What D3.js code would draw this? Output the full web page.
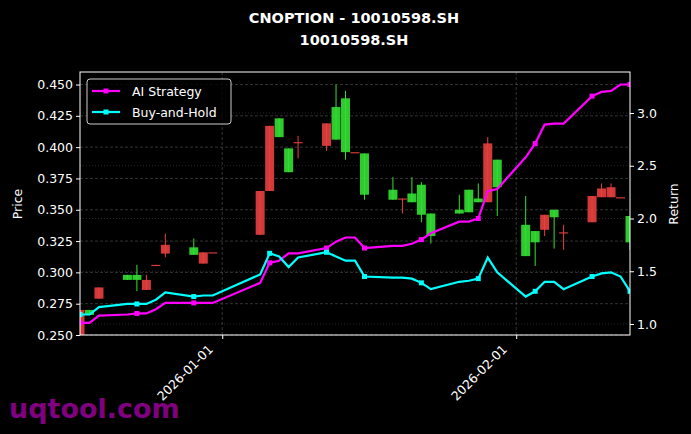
<!DOCTYPE html>
<html>
<head>
<meta charset="utf-8">
<script src="https://cdn.jsdelivr.net/npm/d3@7"></script>
<style>
  body { margin: 0; background: #000; }
  text { font-family: "DejaVu Sans", sans-serif; }
</style>
</head>
<body>
<svg id="chart" width="691" height="434"></svg>
<script>
"use strict"

// trading days
let dates = ["2025-12-17","2025-12-18","2025-12-19","2025-12-22","2025-12-23","2025-12-24","2025-12-25","2025-12-26",
    "2025-12-29","2025-12-30","2025-12-31","2026-01-05","2026-01-06","2026-01-07","2026-01-08","2026-01-09",
    "2026-01-12","2026-01-13","2026-01-14","2026-01-15","2026-01-16","2026-01-19","2026-01-20","2026-01-21",
    "2026-01-22","2026-01-23","2026-01-26","2026-01-27","2026-01-28","2026-01-29","2026-01-30","2026-02-02",
    "2026-02-03","2026-02-04","2026-02-05","2026-02-06","2026-02-09","2026-02-10","2026-02-11","2026-02-12","2026-02-13"];

let opens  = [0.250,0.270,0.279,0.298,0.298,0.286,0.306,0.315,0.320,0.307,0.316,0.330,0.365,0.423,0.399,0.404,
    0.401,0.432,0.439,0.396,0.395,0.366,0.359,0.363,0.370,0.347,0.350,0.366,0.359,0.356,0.390,0.338,
    0.333,0.334,0.350,0.332,0.340,0.360,0.360,0.360,0.345];
let closes = [0.270,0.266,0.288,0.294,0.294,0.294,0.306,0.322,0.314,0.316,0.316,0.365,0.417,0.408,0.380,0.404,
    0.419,0.406,0.396,0.396,0.362,0.358,0.359,0.356,0.346,0.329,0.347,0.348,0.356,0.403,0.368,0.313,
    0.324,0.346,0.344,0.332,0.361,0.367,0.368,0.360,0.324];
let highs  = [0.270,0.270,0.288,0.298,0.306,0.298,0.306,0.331,0.327,0.316,0.316,0.365,0.417,0.423,0.399,0.409,
    0.419,0.450,0.445,0.396,0.395,0.376,0.359,0.376,0.372,0.347,0.362,0.366,0.371,0.408,0.390,0.361,
    0.333,0.346,0.350,0.338,0.361,0.371,0.371,0.360,0.345];
let lows   = [0.250,0.266,0.279,0.294,0.285,0.286,0.305,0.312,0.314,0.307,0.316,0.330,0.365,0.408,0.380,0.391,
    0.397,0.406,0.390,0.396,0.358,0.358,0.347,0.356,0.340,0.323,0.347,0.348,0.356,0.356,0.345,0.313,
    0.305,0.329,0.319,0.318,0.340,0.360,0.360,0.360,0.318];

let aiReturn  = [1.01,1.01,1.08,1.09,1.10,1.10,1.14,1.20,1.20,1.20,1.20,1.39,1.58,1.60,1.67,1.67,
    1.72,1.78,1.82,1.82,1.72,1.74,1.74,1.76,1.80,1.86,1.97,1.97,2.00,2.26,2.28,2.58,
    2.71,2.89,2.90,2.90,3.16,3.20,3.21,3.27,3.27];
let holdReturn = [1.09,1.09,1.16,1.19,1.19,1.19,1.23,1.30,1.26,1.27,1.27,1.47,1.67,1.64,1.54,1.63,
    1.68,1.64,1.60,1.60,1.45,1.44,1.44,1.43,1.39,1.33,1.40,1.41,1.43,1.63,1.49,1.26,
    1.31,1.40,1.40,1.33,1.45,1.48,1.49,1.45,1.31];

let priceTicks = [0.250,0.275,0.300,0.325,0.350,0.375,0.400,0.425,0.450];
let returnTicks = [1.0,1.5,2.0,2.5,3.0];
let dateTicks = ["2026-01-01","2026-02-01"];

let parse = d3.timeParse("%Y-%m-%d");
let margin = {left: 80, right: 630, top: 72, bottom: 335};
let svg = d3.select("#chart");
svg.append("rect").attr("width", 691).attr("height", 434).attr("fill", "#000");

let x = d3.scaleTime().domain([parse(dates[0]), parse(dates[dates.length - 1])]).range([margin.left, margin.right]);
let yP = d3.scaleLinear().domain([0.25, 0.46]).range([margin.bottom, margin.top]);
let yR = d3.scaleLinear().domain([1.0, 3.0]).range([324, 113]);

svg.append("clipPath").attr("id", "clip").append("rect")
    .attr("x", margin.left).attr("y", margin.top)
    .attr("width", margin.right - margin.left).attr("height", margin.bottom - margin.top);

// grid
let grid = svg.append("g");
grid.selectAll(".gp").data(priceTicks).enter().append("line")
    .attr("x1", margin.left).attr("x2", margin.right)
    .attr("y1", d => yP(d)).attr("y2", d => yP(d))
    .attr("stroke", "#555").attr("stroke-width", 0.6).attr("stroke-dasharray", "3,2");
grid.selectAll(".gr").data(returnTicks).enter().append("line")
    .attr("x1", margin.left).attr("x2", margin.right)
    .attr("y1", d => yR(d)).attr("y2", d => yR(d))
    .attr("stroke", "#444").attr("stroke-width", 0.6).attr("stroke-dasharray", "1,2");
grid.selectAll(".gx").data(dateTicks).enter().append("line")
    .attr("x1", d => x(parse(d))).attr("x2", d => x(parse(d)))
    .attr("y1", margin.top).attr("y2", margin.bottom)
    .attr("stroke", "#555").attr("stroke-width", 0.6).attr("stroke-dasharray", "3,2");

// candles
let plot = svg.append("g").attr("clip-path", "url(#clip)");
let candles = plot.selectAll(".c").data(dates).enter().append("g");
let col = (i) => closes[i] >= opens[i] ? "#e8403f" : "#33e033";
candles.append("line")
    .attr("x1", d => x(parse(d))).attr("x2", d => x(parse(d)))
    .attr("y1", (d, i) => yP(highs[i])).attr("y2", (d, i) => yP(lows[i]))
    .attr("stroke", (d, i) => col(i)).attr("stroke-width", 1);
candles.append("rect")
    .attr("x", d => x(parse(d)) - 4.5).attr("width", 9)
    .attr("y", (d, i) => yP(Math.max(opens[i], closes[i])))
    .attr("height", (d, i) => Math.max(1.2, Math.abs(yP(opens[i]) - yP(closes[i]))))
    .attr("fill", (d, i) => col(i)).attr("opacity", 0.9);

// return lines
function drawLine(values, color) {
    let line = d3.line().x((d, i) => x(parse(dates[i]))).y(d => yR(d));
    plot.append("path").datum(values).attr("d", line)
        .attr("fill", "none").attr("stroke", color).attr("stroke-width", 2.2);
    plot.selectAll(null).data(values.filter((d, i) => i % 4 === 0)).enter().append("rect")
        .attr("x", (d, i) => x(parse(dates[i * 4])) - 2.5).attr("y", d => yR(d) - 2.5)
        .attr("width", 5).attr("height", 5).attr("fill", color);
}
drawLine(aiReturn, "#ff00ff");
drawLine(holdReturn, "#00ffff");

// frame
svg.append("rect").attr("x", margin.left).attr("y", margin.top)
    .attr("width", margin.right - margin.left).attr("height", margin.bottom - margin.top)
    .attr("fill", "none").attr("stroke", "#fff").attr("stroke-width", 1);

// axes
let axL = svg.append("g").attr("transform", `translate(${margin.left},0)`)
    .call(d3.axisLeft(yP).tickValues(priceTicks).tickFormat(d3.format(".3f")).tickSize(4));
let axR = svg.append("g").attr("transform", `translate(${margin.right},0)`)
    .call(d3.axisRight(yR).tickValues(returnTicks).tickFormat(d3.format(".1f")).tickSize(4));
let axB = svg.append("g").attr("transform", `translate(0,${margin.bottom})`)
    .call(d3.axisBottom(x).tickValues(dateTicks.map(parse)).tickFormat(d3.timeFormat("%Y-%m-%d")).tickSize(4));
[axL, axR, axB].forEach(a => {
    a.select(".domain").remove();
    a.selectAll("line").attr("stroke", "#fff");
    a.selectAll("text").attr("fill", "#fff").attr("font-size", 12.5);
});
axB.selectAll("text").attr("text-anchor", "end").attr("x", 0).attr("y", 0).attr("dx", 0).attr("dy", "0.35em")
    .attr("transform", "translate(-12,12) rotate(-45)");

// labels
svg.append("text").attr("transform", "translate(22,204) rotate(-90)").attr("text-anchor", "middle")
    .attr("fill", "#fff").attr("font-size", 12.5).text("Price");
svg.append("text").attr("transform", "translate(678,204) rotate(-90)").attr("text-anchor", "middle")
    .attr("fill", "#fff").attr("font-size", 12.5).text("Return");
svg.append("text").attr("x", 354).attr("y", 23).attr("text-anchor", "middle").attr("fill", "#fff")
    .attr("font-size", 14.5).attr("font-weight", "bold").text("CNOPTION - 10010598.SH");
svg.append("text").attr("x", 354).attr("y", 45).attr("text-anchor", "middle").attr("fill", "#fff")
    .attr("font-size", 14.5).attr("font-weight", "bold").text("10010598.SH");

// legend
let legend = svg.append("g").attr("transform", "translate(87,79)");
legend.append("rect").attr("width", 144).attr("height", 45).attr("rx", 3)
    .attr("fill", "#000").attr("fill-opacity", 0.8).attr("stroke", "#ccc").attr("stroke-width", 1);
[["AI Strategy", "#ff00ff"], ["Buy-and-Hold", "#00ffff"]].forEach((e, i) => {
    let yy = 12 + i * 21;
    legend.append("line").attr("x1", 5).attr("x2", 33).attr("y1", yy).attr("y2", yy)
        .attr("stroke", e[1]).attr("stroke-width", 2.2);
    legend.append("rect").attr("x", 16.5).attr("y", yy - 2.5).attr("width", 5).attr("height", 5).attr("fill", e[1]);
    legend.append("text").attr("x", 45).attr("y", yy + 4.5).attr("fill", "#fff").attr("font-size", 12.5).text(e[0]);
});

// watermark
svg.append("text").attr("x", 9).attr("y", 418).attr("fill", "#800080").attr("font-size", 27)
    .attr("font-weight", "bold").text("uqtool.com");
</script>
</body>
</html>
